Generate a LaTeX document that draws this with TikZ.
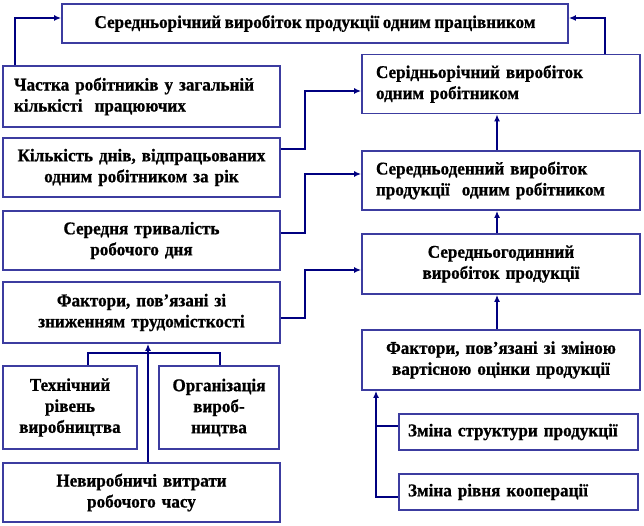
\documentclass[tikz,border=0pt]{standalone}
\usepackage{fontspec}
\setmainfont[FakeStretch=0.95,WordSpace=0.85,BoldFeatures={FakeBold=0.8}]{Liberation Serif}
\usetikzlibrary{arrows.meta}
\definecolor{boxblue}{RGB}{60,60,160}
\definecolor{linenavy}{RGB}{0,0,128}

\begin{document}
\begin{tikzpicture}[x=1pt,y=-1pt,
	box/.style={draw=boxblue,line width=1.8pt,fill=white,inner sep=0pt,
		font=\bfseries\fontsize{18}{21}\selectfont},
	link/.style={draw=linenavy,line width=1.5pt,-{Latex[length=7pt,width=6pt]}},
	plain/.style={draw=linenavy,line width=1.5pt}]
	\useasboundingbox (0,0) rectangle (644,526);
	\node[box,minimum width=506,minimum height=39,align=center] (avgyear) at (315,23.5)
		{Середньорічний виробіток продукції одним працівником};
	\node[box,minimum width=277,minimum height=61,text width=255,align=left] (share) at (141.5,96.5)
		{Частка робітників у загальній\\кількісті\ \ працюючих};
	\node[box,minimum width=277,minimum height=59,text width=255,align=center] (days) at (141.5,167.5)
		{Кількість днів, відпрацьованих\\одним робітником за рік};
	\node[box,minimum width=277,minimum height=59,text width=255,align=center] (shift) at (141.5,240.5)
		{Середня тривалість\\робочого дня};
	\node[box,minimum width=277,minimum height=61,text width=255,align=center] (labour) at (141.5,312.5)
		{Фактори, пов’язані зі\\зниженням трудомісткості};
	\node[box,minimum width=134,minimum height=83,text width=124,align=center] (tech) at (70,407.5)
		{Технічний\\рівень\\виробництва};
	\node[box,minimum width=120,minimum height=83,text width=110,align=center] (org) at (219,407.5)
		{Організація\\вироб-\\ництва};
	\node[box,minimum width=277,minimum height=59,text width=255,align=center] (idle) at (141.5,492.5)
		{Невиробничі витрати\\робочого часу};
	\node[box,minimum width=278,minimum height=59,text width=250,align=left] (peryear) at (501,84)
		{Серідньорічний виробіток\\одним робітником};
	\node[box,minimum width=278,minimum height=59,text width=250,align=left] (perday) at (501,180.5)
		{Середньоденний виробіток\\продукції\ \ одним робітником};
	\node[box,minimum width=278,minimum height=60,text width=262,align=center] (perhour) at (501,264)
		{Середньогодинний\\виробіток продукції};
	\node[box,minimum width=278,minimum height=60,text width=262,align=center] (cost) at (501,360)
		{Фактори, пов’язані зі зміною\\вартісною оцінки продукції};
	\node[box,minimum width=239,minimum height=36,text width=221,align=left] (struct) at (518.5,432)
		{Зміна структури продукції};
	\node[box,minimum width=239,minimum height=36,text width=221,align=left] (coop) at (518.5,492)
		{Зміна рівня кооперації};
	\draw[link] ([xshift=13]share.north west) |- ([yshift=5.5]avgyear.west);
	\draw[link] ([xshift=-36]peryear.north east) |- ([yshift=5.5]avgyear.east);
	\draw[link] ([yshift=-12]days.north east) -- ++(24,0) |- ([yshift=-7]peryear.west);
	\draw[link] ([yshift=-23]shift.north east) -- ++(24,0) |- ([yshift=6.5]perday.west);
	\draw[link] ([yshift=-5.5]labour.east) -- ++(24,0) |- ([yshift=-6]perhour.west);
	\draw[link] ([xshift=-4]perday.north) -- ([xshift=-4]peryear.south);
	\draw[link] ([xshift=-4]perhour.north) -- ([xshift=-4]perday.south);
	\draw[link] ([xshift=-4]cost.north) -- ([xshift=-4]perhour.south);
	\draw[plain] ([xshift=18]tech.north) -- ++(0,-12) -| ([xshift=1]org.north);
	\draw[link] ([xshift=6.5]idle.north) -- ([xshift=6.5]labour.south);
	\draw[plain] ([yshift=6]struct.west) -- ++(-23,0);
	\draw[link] ([yshift=-5]coop.west) -| ([xshift=-125]cost.south);
\end{tikzpicture}
\end{document}
